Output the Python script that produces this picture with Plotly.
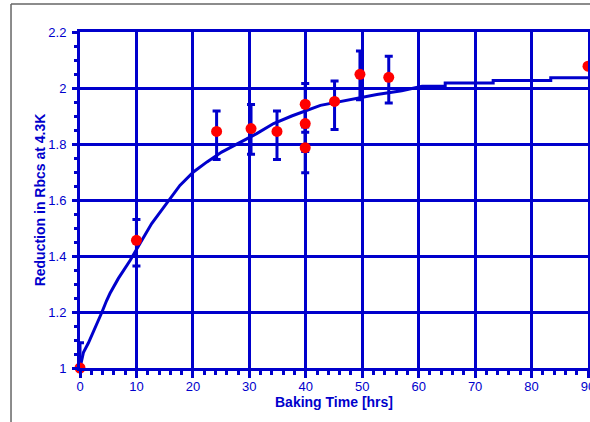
import plotly.graph_objects as go

# ---- data ----
meas_x = [0, 10, 24.2, 30.3, 34.9, 39.9, 39.9, 39.9, 45.1, 49.6, 54.7, 90]
meas_y = [1.0, 1.456, 1.845, 1.855, 1.845, 1.942, 1.873, 1.787, 1.952, 2.049, 2.038, 2.078]
err_plus = [0.09, 0.074, 0.073, 0.086, 0.073, 0.074, 0.074, 0.074, 0.073, 0.083, 0.075, 0]
err_minus = [0.09, 0.092, 0.10, 0.092, 0.10, 0.10, 0.10, 0.09, 0.10, 0.091, 0.092, 0]

fit_x = [0, 0.6, 1.5, 3.0, 3.9, 4.7, 5.3, 6.8, 8.9, 10.6, 12.7, 14.2, 17.7, 20.1,
         22.5, 25.1, 28.4, 31.3, 34.3, 37.5, 42.6, 48.2, 52.6, 57.0, 60.6, 64.7,
         64.7, 73.2, 73.2, 83.4, 83.4, 90]
fit_y = [1.0, 1.055, 1.09, 1.155, 1.2, 1.24, 1.266, 1.32, 1.385, 1.444, 1.516, 1.557,
         1.652, 1.7, 1.736, 1.771, 1.807, 1.837, 1.873, 1.9, 1.938, 1.96, 1.977, 1.99,
         2.006, 2.006, 2.018, 2.018, 2.027, 2.027, 2.037, 2.037]

x_title = "Baking Time [hrs]"
y_title = "Reduction in Rbcs at 4.3K"

BLUE = "#0000cc"
FONT = "Arial, Liberation Sans, sans-serif"

fig = go.Figure()
fig.add_trace(go.Scatter(
    x=fit_x, y=fit_y, mode="lines",
    line=dict(color=BLUE, width=3), cliponaxis=False, showlegend=False))
fig.add_trace(go.Scatter(
    x=meas_x, y=meas_y, mode="markers",
    marker=dict(color="#ff0000", size=11),
    error_y=dict(type="data", symmetric=False, array=err_plus, arrayminus=err_minus,
                 color=BLUE, thickness=3, width=4),
    cliponaxis=False, showlegend=False))

axis_common = dict(
    showgrid=True, gridcolor=BLUE, gridwidth=3,
    showline=True, linecolor=BLUE, linewidth=3, mirror=True,
    zeroline=False, automargin=False,
    ticks="outside", tickcolor=BLUE, tickwidth=3,
    ticklabeloverflow="allow",
    tickfont=dict(family=FONT, size=13, color=BLUE),
)

fig.update_layout(
    width=590, height=422,
    margin=dict(l=80, r=2, t=32, b=54),
    paper_bgcolor="white", plot_bgcolor="white",
    xaxis=dict(range=[0, 90], tick0=0, dtick=10, ticklen=7, ticklabelstandoff=-3,
               minor=dict(dtick=2, ticks="outside", ticklen=4, tickwidth=3,
                          tickcolor=BLUE, showgrid=False),
               title=dict(text=x_title, standoff=5,
                          font=dict(family=FONT, size=14, color=BLUE, weight="bold")),
               **axis_common),
    yaxis=dict(range=[1, 2.2], tick0=1, dtick=0.2, ticklen=5, ticklabelstandoff=3,
               minor=dict(dtick=0.05, ticks="outside", ticklen=3, tickwidth=3,
                          tickcolor=BLUE, showgrid=False),
               title=dict(text=y_title, standoff=0,
                          font=dict(family=FONT, size=14, color=BLUE, weight="bold")),
               **axis_common),
    shapes=[
        dict(type="line", xref="paper", yref="paper", x0=-0.1358, x1=1.2,
             y0=1.0833, y1=1.0833, line=dict(color="#666666", width=1.5)),
        dict(type="line", xref="paper", yref="paper", x0=-0.1358, x1=-0.1358,
             y0=1.0833, y1=-0.3, line=dict(color="#666666", width=1.5)),
    ],
)

fig.write_html("out.html")
